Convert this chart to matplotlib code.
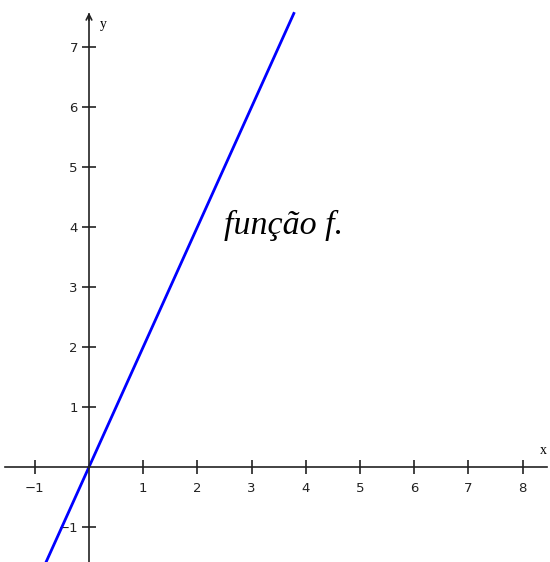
import numpy as np
import matplotlib.pyplot as plt

# reta f(x) = 2x
a = 2.0
x_ini, x_fim = -0.8, 3.79
xticks = [-1, 1, 2, 3, 4, 5, 6, 7, 8]
yticks = [-1, 1, 2, 3, 4, 5, 6, 7]

fig = plt.figure(figsize=(5.5, 5.62), dpi=100)
ax = fig.add_axes([0, 0, 1, 1])
ax.set_xlim(-1.642, 8.506)
ax.set_ylim(-1.583, 7.783)

x = np.array([x_ini, x_fim])
ax.plot(x, a * x, color='#0000ff', lw=2, zorder=2, solid_capstyle='butt')

# eixos cartesianos no zero
for lado in ['top', 'right']:
    ax.spines[lado].set_visible(False)
ax.spines['left'].set_position(('data', 0))
ax.spines['bottom'].set_position(('data', 0))
ax.spines['left'].set_bounds(-1.6, 7.55)
ax.spines['bottom'].set_bounds(-1.55, 8.45)
for s in ['left', 'bottom']:
    ax.spines[s].set_color('#222222')
    ax.spines[s].set_linewidth(1.2)

ax.annotate('', xy=(8.52, 0), xytext=(8.3, 0),
            arrowprops=dict(arrowstyle='->', color='#222222', lw=1.2))
ax.annotate('', xy=(0, 7.62), xytext=(0, 7.4),
            arrowprops=dict(arrowstyle='->', color='#222222', lw=1.2))

ax.set_xticks(xticks)
ax.set_yticks(yticks)
ax.set_xticklabels(['\u2212' + str(-t) if t < 0 else str(t) for t in xticks])
ax.set_yticklabels(['\u2212' + str(-t) if t < 0 else str(t) for t in yticks])
ax.tick_params(direction='inout', length=10, width=1.2, color='#222222',
               labelsize=9.5, labelcolor='#222222', pad=3)
ax.tick_params(axis='x', pad=6)
for lbl in ax.get_xticklabels() + ax.get_yticklabels():
    lbl.set_family('DejaVu Sans')
for lbl in ax.get_yticklabels():
    lbl.set_bbox(dict(facecolor='white', edgecolor='none', pad=2.5))

ax.text(8.38, 0.28, 'x', fontsize=10, family='Liberation Serif', ha='center', va='center')
ax.text(0.26, 7.37, 'y', fontsize=10, family='Liberation Serif', ha='center', va='center')

ax.text(2.50, 4.02, 'função f.', fontsize=24.5, family='Liberation Serif',
        style='italic', ha='left', va='center')

fig.savefig('out.png', dpi=100)
